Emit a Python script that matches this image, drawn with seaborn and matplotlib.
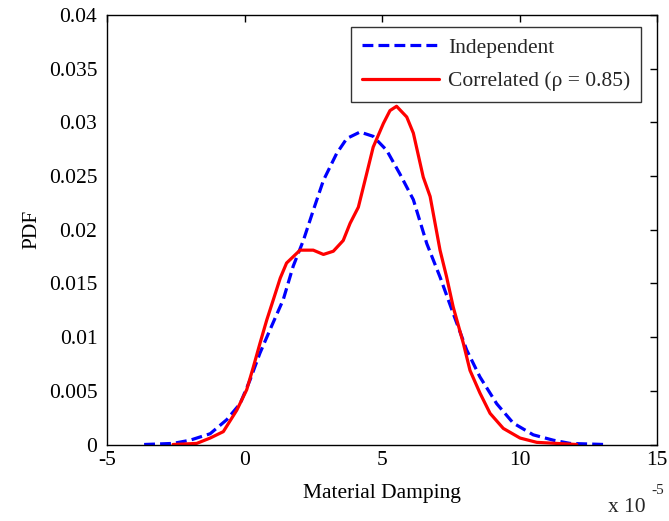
import matplotlib
matplotlib.use("Agg")
import matplotlib.pyplot as plt
import seaborn as sns
import pandas as pd
from matplotlib.ticker import FixedLocator, FixedFormatter

# Data (x in units of 1e-5)
indep_x = [-3.65, -2.6, -1.98, -1.25, -0.65, -0.16, 0.2, 0.56, 0.93, 1.41, 1.77, 2.14, 2.5,
           2.87, 3.35, 3.72, 4.2, 4.68, 5.17, 5.65, 6.14, 6.63, 7.11, 7.59, 8.08, 8.56, 9.17,
           9.77, 10.5, 11.23, 11.84, 13.1]
indep_y = [0, 0.0001, 0.0004, 0.001, 0.0023, 0.0038, 0.006, 0.0085, 0.0107, 0.0135, 0.0166,
           0.019, 0.0218, 0.0246, 0.0271, 0.0285, 0.0291, 0.0287, 0.0274, 0.0252, 0.0228,
           0.0187, 0.0156, 0.0122, 0.0088, 0.0063, 0.0038, 0.002, 0.0009, 0.0004, 0.0001, 0]

corr_x = [-2.6, -1.74, -1.25, -0.77, -0.28, 0.08, 0.32, 0.56, 0.81, 1.05, 1.3, 1.53, 2.02,
          2.5, 2.87, 3.23, 3.59, 3.84, 4.14, 4.44, 4.68, 5.05, 5.29, 5.53, 5.9, 6.14, 6.5,
          6.75, 7.11, 7.35, 7.59, 7.96, 8.2, 8.56, 8.93, 9.41, 10.02, 10.63, 12.08]
corr_y = [0, 0.0001, 0.0006, 0.0012, 0.0032, 0.0051, 0.0072, 0.0094, 0.0116, 0.0135, 0.0155,
          0.0169, 0.0181, 0.0181, 0.0177, 0.018, 0.019, 0.0206, 0.0221, 0.0252, 0.0277,
          0.0299, 0.0311, 0.0315, 0.0305, 0.029, 0.0249, 0.0231, 0.0181, 0.0156, 0.0128,
          0.0094, 0.0069, 0.0048, 0.0029, 0.0015, 0.0006, 0.0002, 0]

series_names = ["Independent", "Correlated (\u03c1 = 0.85)"]
xticks = [-5, 0, 5, 10, 15]
xtick_labels = ["-5", "0", "5", "10", "15"]
yticks = [0, 0.005, 0.01, 0.015, 0.02, 0.025, 0.03, 0.035, 0.04]
ytick_labels = ["0", "0.005", "0.01", "0.015", "0.02", "0.025", "0.03", "0.035", "0.04"]

sns.set_theme(style="white")
plt.rcParams['font.family'] = ['Liberation Serif', 'DejaVu Serif']
FS = 15.5

fig = plt.figure(figsize=(6.69, 5.21), dpi=100)
ax = fig.add_axes([107/669, 1 - 444.5/521, (657-107)/669, (444.5-15)/521])

df1 = pd.DataFrame({"x": indep_x, "y": indep_y})
df2 = pd.DataFrame({"x": corr_x, "y": corr_y})
sns.lineplot(data=df1, x="x", y="y", ax=ax, color="#0000ff", lw=2.3,
             label=series_names[0], sort=False)
sns.lineplot(data=df2, x="x", y="y", ax=ax, color="#ff0000", lw=2.3,
             label=series_names[1], sort=False)
ax.lines[0].set_dashes([3.4, 1.6])
for ln in ax.lines:
    ln.set_solid_joinstyle("round")
    ln.set_dash_joinstyle("round")

ax.set_xlim(-5, 15)
ax.set_ylim(0, 0.04)
ax.xaxis.set_major_locator(FixedLocator(xticks))
ax.xaxis.set_major_formatter(FixedFormatter(xtick_labels))
ax.yaxis.set_major_locator(FixedLocator(yticks))
ax.yaxis.set_major_formatter(FixedFormatter(ytick_labels))
ax.tick_params(direction="in", length=5, width=1, color="black", labelsize=FS,
               top=True, right=True, labelcolor="black")
ax.tick_params(axis="y", pad=7)
ax.tick_params(axis="x", pad=5)
for s in ax.spines.values():
    s.set_visible(True)
    s.set_color("black")
    s.set_linewidth(1)
ax.grid(False)
ax.set_xlabel("Material Damping", fontsize=FS, color="black")
ax.set_ylabel("PDF", fontsize=FS, color="black")
ax.xaxis.set_label_coords((382 - 107) / 550, (444.5 - 484) / 429.5)
ax.yaxis.set_label_coords((41 - 107) / 550, 0.5)

leg = ax.legend(loc="upper right", fontsize=FS, frameon=True, fancybox=False,
                edgecolor="black", handlelength=3.6, handletextpad=0.4,
                borderpad=0.5, labelspacing=0.62, borderaxespad=0)
leg.get_frame().set_linewidth(1)
leg.set_bbox_to_anchor((641/669, 1 - 27/521), transform=fig.transFigure)

fig.text(608/669, 1 - 512/521, "x 10", fontsize=FS, ha="left", va="baseline")
fig.text(651/669, 1 - 494/521, "-5", fontsize=11, ha="left", va="baseline")

fig.savefig("out.png", dpi=100, facecolor="white")
